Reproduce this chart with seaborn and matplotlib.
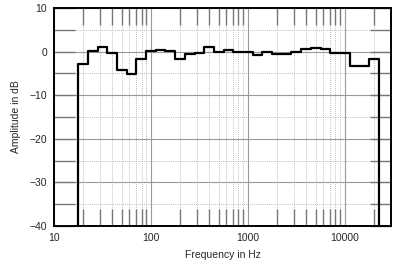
import numpy as np
import pandas as pd
import matplotlib
matplotlib.use("Agg")
import matplotlib.pyplot as plt
import seaborn as sns
from matplotlib.ticker import FixedLocator, NullFormatter, FixedFormatter

# 1/3-octave band centre frequencies (Hz)
band_centres = [20, 25, 31.5, 40, 50, 63, 80, 100, 125, 160, 200, 250, 315, 400,
                500, 630, 800, 1000, 1250, 1600, 2000, 2500, 3150, 4000, 5000,
                6300, 8000, 10000, 12500, 16000, 20000]
# Band levels (dB)
band_levels = [-2.9, 0.1, 1.1, -0.4, -4.3, -5.1, -1.7, 0.2, 0.4, 0.2, -1.75, -0.6,
               -0.4, 1.15, -0.15, 0.4, -0.1, -0.1, -0.75, -0.2, -0.6, -0.6, 0.0,
               0.6, 0.9, 0.6, -0.4, -0.4, -3.3, -3.3, -1.75]
floor_db = -40

x_tick_values = [10, 100, 1000, 10000]
x_tick_labels = ["10", "100", "1000", "10000"]
y_tick_values = [-40, -30, -20, -10, 0, 10]

sns.set_style("white")
plt.rcParams["font.family"] = ["Liberation Sans", "DejaVu Sans"]

centres = np.array([10 ** (round(np.log10(c) * 10) / 10) for c in band_centres])
edges = np.concatenate([centres / 10 ** 0.05, [centres[-1] * 10 ** 0.05]])
xs = np.concatenate([[edges[0]], edges])
ys = np.concatenate([[floor_db], band_levels, [floor_db]])
df = pd.DataFrame({"freq": xs, "level": ys})

fig = plt.figure(figsize=(4.0, 2.73), dpi=100)
ax = fig.add_axes([0.135, 0.172, 0.8425, 0.7988])

ax.set_xscale("log")
ax.set_xlim(10, 30000)
ax.set_ylim(-40, 10)

minor = [m * d for d in [10, 100, 1000] for m in range(2, 10)] + [20000]
ax.xaxis.set_major_locator(FixedLocator(x_tick_values))
ax.xaxis.set_major_formatter(FixedFormatter(x_tick_labels))
ax.xaxis.set_minor_locator(FixedLocator(minor))
ax.xaxis.set_minor_formatter(NullFormatter())
ax.yaxis.set_major_locator(FixedLocator(y_tick_values))
ax.yaxis.set_minor_locator(FixedLocator([-35, -25, -15, -5, 5]))

ax.grid(True, which="major", color="#9a9a9a", linewidth=0.8, linestyle="-")
ax.grid(True, which="minor", color="#a8a8a8", linewidth=0.6, linestyle=(0, (1, 1.5)))
ax.set_axisbelow(True)

ax.tick_params(axis="x", which="major", length=0, labelsize=7.5, pad=5)
ax.tick_params(axis="x", which="minor", direction="in", length=12, width=1.0,
               color="#777777", top=True, bottom=True)
ax.tick_params(axis="y", which="both", direction="in", length=15, width=1.0,
               color="#777777", left=True, right=True, labelsize=7.5, pad=5)

sns.lineplot(data=df, x="freq", y="level", ax=ax, estimator=None, sort=False,
             color="black", linewidth=1.6, drawstyle="steps-post", legend=False)

for s in ax.spines.values():
    s.set_color("black")
    s.set_linewidth(1.4)

ax.set_xlabel("Frequency in Hz", fontsize=7.5, labelpad=5)
ax.set_ylabel("Amplitude in dB", fontsize=7.5, labelpad=6)

fig.savefig("out.png", dpi=100)
